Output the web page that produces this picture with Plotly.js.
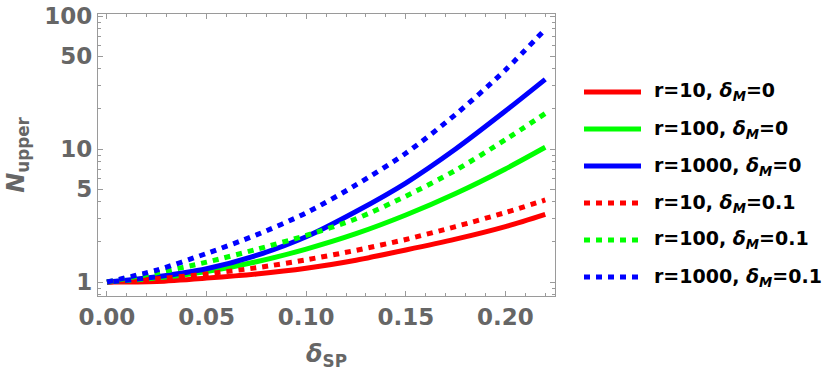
<!DOCTYPE html>
<html>
<head>
<meta charset="utf-8">
<script src="https://cdn.plot.ly/plotly-3.0.1.min.js"></script>
<style>html,body{margin:0;padding:0;background:#fff}#chart{width:830px;height:371px}</style>
</head>
<body>
<div id="chart"></div>
<script>
// delta_SP sample points
const deltaSP = [0, 0.025, 0.05, 0.075, 0.1, 0.125, 0.15, 0.175, 0.2, 0.22];
// N_upper values
const r10_d0    = [1, 1.01, 1.07, 1.15, 1.27, 1.46, 1.74, 2.10, 2.61, 3.23];
const r100_d0   = [1, 1.07, 1.20, 1.42, 1.77, 2.31, 3.19, 4.63, 7.08, 10.3];
const r1000_d0  = [1, 1.096, 1.259, 1.585, 2.19, 3.39, 5.55, 10.0, 19.3, 33.4];
const r10_d01   = [1, 1.057, 1.15, 1.28, 1.47, 1.73, 2.09, 2.61, 3.33, 4.14];
const r100_d01  = [1, 1.175, 1.41, 1.76, 2.24, 2.99, 4.42, 6.92, 11.75, 18.5];
const r1000_d01 = [1, 1.23, 1.64, 2.26, 3.31, 5.37, 9.29, 18.2, 39.3, 79.4];

const seriesNames = [
  "r=10, <i>δ</i><sub><i>M</i></sub>=0",
  "r=100, <i>δ</i><sub><i>M</i></sub>=0",
  "r=1000, <i>δ</i><sub><i>M</i></sub>=0",
  "r=10, <i>δ</i><sub><i>M</i></sub>=0.1",
  "r=100, <i>δ</i><sub><i>M</i></sub>=0.1",
  "r=1000, <i>δ</i><sub><i>M</i></sub>=0.1"
];
const seriesValues = [r10_d0, r100_d0, r1000_d0, r10_d01, r100_d01, r1000_d01];
const seriesColors = ["#ff0000", "#00ff00", "#0000ff", "#ff0000", "#00ff00", "#0000ff"];
const seriesDash = ["solid", "solid", "solid", "6px,6px", "6px,6px", "6px,6px"];

const xTickVals = [0, 0.05, 0.10, 0.15, 0.20];
const xTickText = ["0.00", "0.05", "0.10", "0.15", "0.20"];
const yTickVals = [1, 5, 10, 50, 100];
const yTickText = ["1", "5", "10", "50", "100"];
const yMinorVals = [0.8, 0.9, 2, 3, 4, 6, 7, 8, 9, 20, 30, 40, 60, 70, 80, 90];

const traces = seriesValues.map((v, i) => ({
  x: deltaSP, y: v, type: "scatter", mode: "lines",
  name: seriesNames[i], showlegend: false,
  line: {color: seriesColors[i], width: 5, dash: seriesDash[i], shape: "spline", smoothing: 0.8}
}));

// custom legend (paper coordinates): plot spans 457 px wide, 282 px tall
const plotW = 457, plotH = 282;
const legLineX0 = (584 - 98) / plotW, legLineX1 = (641 - 98) / plotW, legTextX = (652 - 98) / plotW;
const legRowsPx = [92, 129, 166, 203, 240, 277];
const shapes = [], annotations = [];
seriesNames.forEach((n, i) => {
  const yp = (296 - legRowsPx[i]) / plotH;
  shapes.push({type: "line", xref: "paper", yref: "paper", x0: legLineX0, x1: legLineX1, y0: yp, y1: yp,
    line: {color: seriesColors[i], width: 5, dash: seriesDash[i]}});
  annotations.push({xref: "paper", yref: "paper", x: legTextX, y: yp, xanchor: "left", yanchor: "middle",
    showarrow: false, text: "<b>" + n + "</b>", font: {family: "DejaVu Sans", size: 19, color: "#000"}});
});

const gray = "#666666";
const axisCol = "#9a9a9a";
const tickFont = {family: "DejaVu Sans", size: 23, color: gray, weight: "bold"};

const layout = {
  width: 830, height: 371,
  margin: {l: 98, r: 275, t: 14, b: 75},
  paper_bgcolor: "#fff", plot_bgcolor: "#fff",
  showlegend: false,
  shapes: shapes, annotations: annotations,
  xaxis: {
    range: [-0.0045, 0.2249], showgrid: false, zeroline: false,
    showline: true, linecolor: axisCol, linewidth: 1.2, mirror: "ticks",
    ticks: "inside", ticklen: 5, tickcolor: axisCol, tickwidth: 1,
    tickvals: xTickVals, ticktext: xTickText, tickfont: tickFont,
    minor: {dtick: 0.01, tick0: 0, ticks: "inside", ticklen: 3, tickcolor: axisCol, showgrid: false},
    title: {text: "<b><i>δ</i><sub>SP</sub></b>", font: {family: "DejaVu Sans", size: 24, color: gray}, standoff: 19}
  },
  yaxis: {
    type: "log", range: [-0.105, 2.015], showgrid: false, zeroline: false,
    showline: true, linecolor: axisCol, linewidth: 1.2, mirror: "ticks",
    ticks: "inside", ticklen: 5, tickcolor: axisCol, tickwidth: 1,
    tickvals: yTickVals, ticktext: yTickText, tickfont: tickFont,
    minor: {tickvals: yMinorVals, ticks: "inside", ticklen: 3, tickcolor: axisCol, showgrid: false},
    title: {text: "<b><i>N</i><sub>upper</sub></b>", font: {family: "DejaVu Sans", size: 24, color: gray}, standoff: 12}
  }
};

Plotly.newPlot("chart", traces, layout, {displayModeBar: false, staticPlot: true});
</script>
</body>
</html>
